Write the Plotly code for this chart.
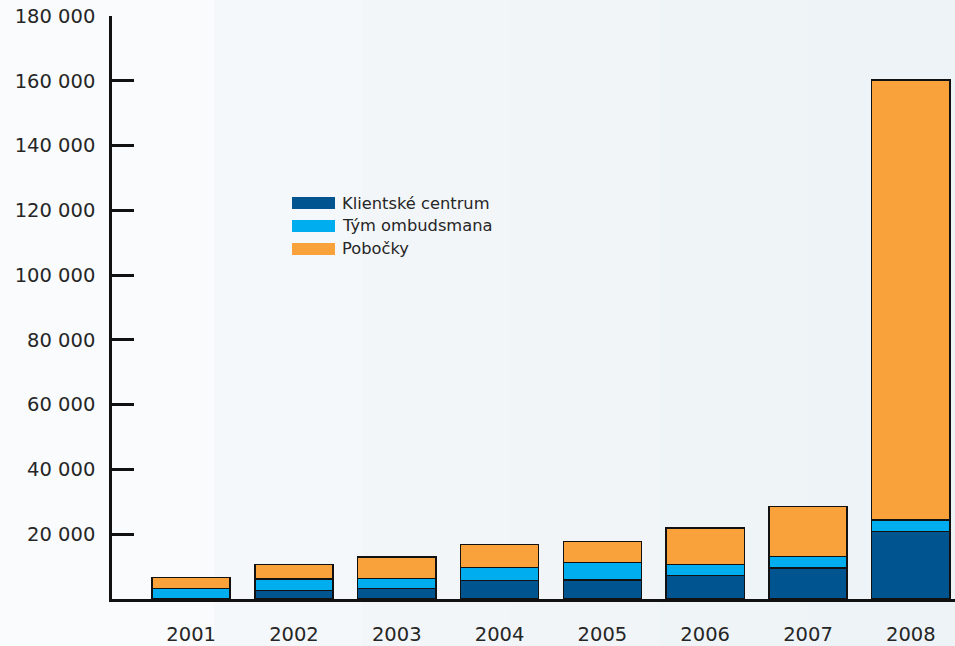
import plotly.graph_objects as go

years = ["2001", "2002", "2003", "2004", "2005", "2006", "2007", "2008"]
klientske_centrum = [0, 2600, 3300, 5700, 5800, 7200, 9600, 20900]
tym_ombudsmana = [3200, 3500, 3000, 4100, 5400, 3500, 3500, 3500]
pobocky = [3500, 4600, 6600, 7100, 6600, 11200, 15400, 135800]
series_names = ["Klientské centrum", "Tým ombudsmana", "Pobočky"]
series_colors = ["#005591", "#00aeef", "#f9a13a"]
y_ticks = [20000, 40000, 60000, 80000, 100000, 120000, 140000, 160000, 180000]
y_ticktext = ["20 000", "40 000", "60 000", "80 000", "100 000", "120 000", "140 000", "160 000", "180 000"]

W, H = 955, 646
ML, MR, MT, MB = 112, 0, 16, 47
PW = W - ML - MR
PH = H - MT - MB

fig = go.Figure()
for name, vals, col in zip(series_names, [klientske_centrum, tym_ombudsmana, pobocky], series_colors):
    fig.add_trace(go.Bar(
        x=years, y=vals, name=name, marker_color=col,
        marker_line_color="#111111", marker_line_width=1.5,
        showlegend=False,
    ))

def px_x(px):
    return (px - ML) / PW

def px_y(py):
    return (H - MB - py) / PH

shapes = []
band_cols = ["#f5f8fa", "#f3f6f9", "#f1f5f8", "#eff4f7", "#eef3f7"]
x_start = 214
step = (W - x_start) / len(band_cols)
for i, c in enumerate(band_cols):
    shapes.append(dict(type="rect", xref="paper", yref="paper",
                       x0=px_x(x_start + i * step), x1=px_x(x_start + (i + 1) * step + 1),
                       y0=px_y(H + 2), y1=px_y(-2), fillcolor=c, line_width=0, layer="below"))

annotations = []
row_y = [203, 226, 249]
for name, col, ry in zip(series_names, series_colors, row_y):
    shapes.append(dict(type="rect", xref="paper", yref="paper",
                       x0=px_x(292), x1=px_x(335), y0=px_y(ry + 6), y1=px_y(ry - 6),
                       fillcolor=col, line_width=0))
    annotations.append(dict(xref="paper", yref="paper", x=px_x(340), y=px_y(ry),
                            text=name, showarrow=False, xanchor="left", yanchor="middle",
                            font=dict(size=16.3, color="#262626")))

fig.update_layout(
    width=W, height=H,
    margin=dict(l=ML, r=MR, t=MT, b=MB),
    barmode="stack", bargap=0.24,
    paper_bgcolor="#f9fbfd", plot_bgcolor="rgba(0,0,0,0)",
    font=dict(family="DejaVu Sans, sans-serif", color="#262626"),
    shapes=shapes, annotations=annotations,
    xaxis=dict(type="category", range=[-0.77, 7.43], showgrid=False, zeroline=False,
               showline=True, linecolor="#111111", linewidth=2.5, ticks="",
               tickfont=dict(size=19.5, color="#262626"), ticklabelstandoff=16),
    yaxis=dict(range=[0, 180000], tickvals=y_ticks, ticktext=y_ticktext,
               showgrid=False, zeroline=False, showline=True, linecolor="#111111",
               linewidth=2.5, ticks="inside", ticklen=22, tickwidth=2.5, tickcolor="#111111",
               tickfont=dict(size=19.5, color="#262626"), ticklabelstandoff=10),
)

fig.write_html("out.html", config={"displayModeBar": False},
               post_script="document.body.style.margin='0';")
